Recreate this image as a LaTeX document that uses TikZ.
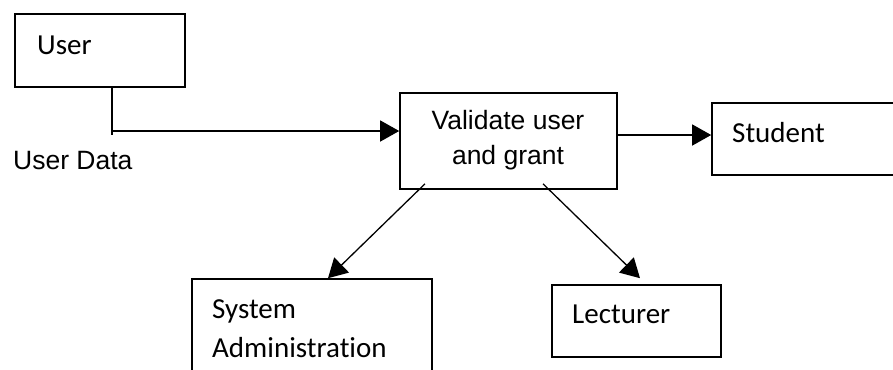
\documentclass[tikz,border=0pt]{standalone}
\usepackage{fontspec}
\setmainfont{Liberation Sans}
\newfontfamily\calib[Ligatures=NoCommon]{Carlito}
\usetikzlibrary{arrows.meta}
\tikzset{
  box/.style={draw=black, line width=1.6bp, rectangle, inner sep=0pt},
  arr/.style={line width=1.3bp, -{Triangle[length=19bp,width=21bp]}},
  conn/.style={line width=1.3bp},
  ctext/.style={inner sep=0pt, anchor=base west, font=\calib\fontsize{29bp}{35bp}\selectfont},
  atext/.style={inner sep=0pt, anchor=base, font=\fontsize{26.5bp}{32bp}\selectfont},
}
\begin{document}
\begin{tikzpicture}[x=1bp,y=-1bp]
\clip (0,0) rectangle (893,369);
\fill[white] (0,0) rectangle (893,369);
% boxes
\node[box, minimum width=170bp, minimum height=73bp] (user) at (100,50.5) {};
\node[box, minimum width=217bp, minimum height=96bp] (val) at (508.5,141) {};
\node[box, minimum width=208bp, minimum height=72bp] (stu) at (816,139) {};
\node[box, minimum width=240bp, minimum height=121bp] (sys) at (312,339.5) {};
\node[box, minimum width=169bp, minimum height=72bp] (lec) at (636.5,321) {};
% texts
\node[ctext] (usert) at (37,54) {User};
\node[atext, anchor=base west] (udata) at (13,169) {User Data};
\node[atext] (val1) at (508,129) {Validate user};
\node[atext] (val2) at (508,164) {and grant};
\node[ctext] (stut) at (732,142) {Student};
\node[ctext] (sys1) at (212,318) {System};
\node[ctext] (sys2) at (212,357) {Administration};
\node[ctext] (lect) at (572,323) {Lecturer};
% connectors
\coordinate (bend) at (112,131);
\draw[conn] (user.south -| bend) -- ([yshift=-4bp]bend);
\draw[arr] (bend) -- (bend -| val.west);
\draw[arr] ([yshift=6bp]val.east) -- ([yshift=6bp]val.east -| stu.west);
\draw[arr] ([xshift=-83.5bp,yshift=6bp]val.south) -- ([xshift=16bp]sys.north);
\draw[arr] ([xshift=34.5bp,yshift=6bp]val.south) -- ([xshift=3.5bp,yshift=6bp]lec.north);
\end{tikzpicture}
\end{document}
